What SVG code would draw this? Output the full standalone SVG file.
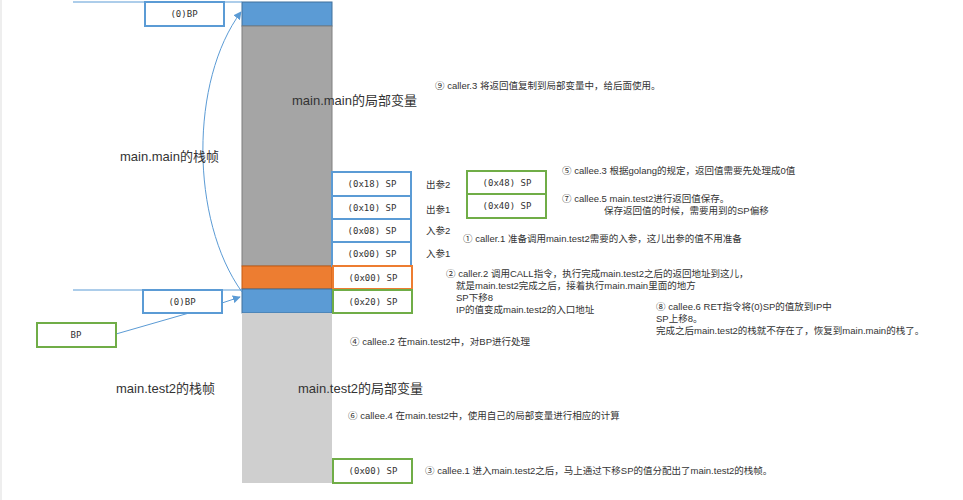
<svg xmlns="http://www.w3.org/2000/svg" width="963" height="500" viewBox="0 0 963 500">
<style>
.t{font-family:"Liberation Sans","Noto Sans CJK SC",sans-serif;font-size:9.5px;fill:#333}
.big{font-family:"Liberation Sans","Noto Sans CJK SC",sans-serif;font-size:13px;fill:#333}
.m{font-family:"DejaVu Sans Mono","Liberation Mono",monospace;font-size:9px;fill:#333;text-anchor:middle}
.bb{fill:#fff;stroke:#5b9bd5;stroke-width:2}
.gb{fill:#fff;stroke:#70ad47;stroke-width:2}
.ob{fill:#fff;stroke:#ed7d31;stroke-width:2}
.ln{stroke:#5b9bd5;stroke-width:1;fill:none}
</style>
<defs><marker id="a" viewBox="0 0 10 10" refX="9" refY="5" markerWidth="8" markerHeight="8" orient="auto"><path d="M0,0L10,5L0,10z" fill="#5b9bd5"/></marker></defs>
<rect width="963" height="500" fill="#fff"/>
<line x1="1" y1="0" x2="1" y2="500" stroke="#ddd"/>
<g id="stack">
<rect x="242" y="2" width="90" height="24" fill="#5b9bd5" stroke="#41719c"/>
<rect x="242" y="26" width="90" height="240" fill="#a5a5a5" stroke="#7f7f7f"/>
<rect x="242" y="266" width="90" height="23" fill="#ed7d31" stroke="#c55a11"/>
<rect x="242" y="289" width="90" height="24" fill="#5b9bd5" stroke="#41719c"/>
<rect x="242" y="313" width="90" height="170" fill="#cfcfcf"/>
</g>
<g id="connectors">
<line class="ln" x1="73" y1="2" x2="242" y2="2"/>
<line class="ln" x1="73" y1="290" x2="242" y2="290"/>
<path class="ln" d="M242,292 C190,220 190,80 241,12" marker-end="url(#a)"/>
<line class="ln" x1="222" y1="303" x2="240" y2="297" marker-end="url(#a)"/>
<line class="ln" x1="116" y1="334" x2="196" y2="311"/>
</g>
<g id="bp1"><rect class="bb" x="145" y="2" width="79" height="24"/><text class="m" x="184" y="17">(0)BP</text></g>
<g id="bp2"><rect class="bb" x="143" y="290" width="79" height="23"/><text class="m" x="182" y="305">(0)BP</text></g>
<g id="bp3"><rect class="gb" x="37" y="323" width="79" height="24"/><text class="m" x="76" y="338">BP</text></g>
<g id="s18"><rect class="bb" x="332" y="172" width="79" height="24"/><text class="m" x="372" y="187">(0x18) SP</text></g>
<g id="s10"><rect class="bb" x="332" y="196" width="79" height="23"/><text class="m" x="372" y="211">(0x10) SP</text></g>
<g id="s08"><rect class="bb" x="332" y="219" width="79" height="23"/><text class="m" x="372" y="234">(0x08) SP</text></g>
<g id="s00"><rect class="bb" x="332" y="242" width="79" height="24"/><text class="m" x="372" y="257">(0x00) SP</text></g>
<g id="so"><rect class="ob" x="333" y="266" width="79" height="23"/><text class="m" x="373" y="281">(0x00) SP</text></g>
<g id="s20"><rect class="gb" x="333" y="290" width="79" height="23"/><text class="m" x="373" y="305">(0x20) SP</text></g>
<g id="sb"><rect class="gb" x="333" y="459" width="79" height="24"/><text class="m" x="373" y="474">(0x00) SP</text></g>
<g id="s48"><rect class="gb" x="467" y="171" width="79" height="23"/><text class="m" x="507" y="186">(0x48) SP</text></g>
<g id="s40"><rect class="gb" x="467" y="194" width="79" height="24"/><text class="m" x="507" y="209">(0x40) SP</text></g>
<g id="labels">
<text class="big" x="292" y="105">main.main的局部变量</text>
<text class="big" x="120" y="161">main.main的栈帧</text>
<text class="big" x="116" y="393">main.test2的栈帧</text>
<text class="big" x="298" y="393">main.test2的局部变量</text>
<text class="t" x="426" y="188">出参2</text>
<text class="t" x="426" y="213">出参1</text>
<text class="t" x="426" y="234">入参2</text>
<text class="t" x="426" y="257">入参1</text>
<text class="t" x="435" y="89">⑨  caller.3    将返回值复制到局部变量中，给后面使用。</text>
<text class="t" x="562" y="174">⑤  callee.3    根据golang的规定，返回值需要先处理成0值</text>
<text class="t" x="562" y="202">⑦  callee.5    main.test2进行返回值保存。</text>
<text class="t" x="604" y="214">保存返回值的时候，需要用到的SP偏移</text>
<text class="t" x="463" y="242">①  caller.1    准备调用main.test2需要的入参，这儿出参的值不用准备</text>
<text class="t" x="446" y="277">②  caller.2 调用CALL指令，执行完成main.test2之后的返回地址到这儿，</text>
<text class="t" x="456" y="289">就是main.test2完成之后，接着执行main.main里面的地方</text>
<text class="t" x="456" y="301">SP下移8</text>
<text class="t" x="456" y="313">IP的值变成main.test2的入口地址</text>
<text class="t" x="656" y="310">⑧  callee.6    RET指令将(0)SP的值放到IP中</text>
<text class="t" x="656" y="322">SP上移8。</text>
<text class="t" x="656" y="334">完成之后main.test2的栈就不存在了，恢复到main.main的栈了。</text>
<text class="t" x="350" y="345">④  callee.2    在main.test2中，对BP进行处理</text>
<text class="t" x="348" y="419">⑥  callee.4    在main.test2中，使用自己的局部变量进行相应的计算</text>
<text class="t" x="425" y="474">③  callee.1    进入main.test2之后，马上通过下移SP的值分配出了main.test2的栈帧。</text>
</g>
</svg>
